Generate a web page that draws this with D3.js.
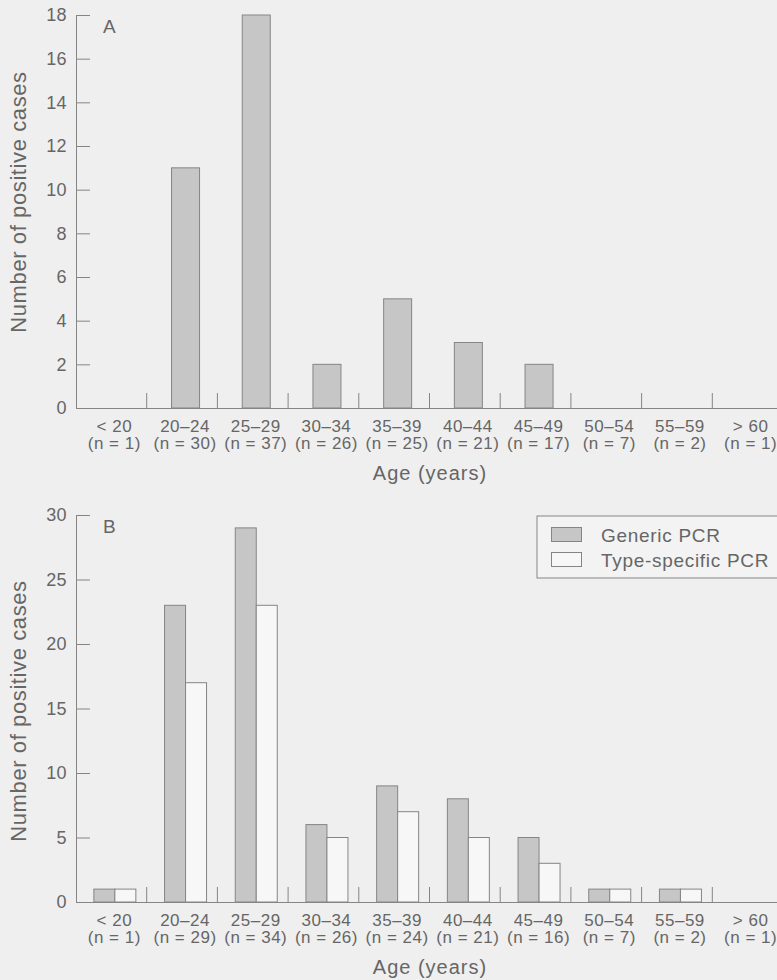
<!DOCTYPE html>
<html>
<head>
<meta charset="utf-8">
<script src="https://cdn.jsdelivr.net/npm/d3@7"></script>
<style>
  html, body { margin: 0; padding: 0; background: #efefef; }
  svg { display: block; }
  text { font-family: "Liberation Sans", Arial, sans-serif; fill: #666; }
</style>
</head>
<body>
<svg id="chart" width="777" height="980"></svg>
<script>
// age groups shared by both panels
var ageGroups = ["< 20", "20–24", "25–29", "30–34", "35–39", "40–44", "45–49", "50–54", "55–59", "> 60"];

// panel A
var nA = [1, 30, 37, 26, 25, 21, 17, 7, 2, 1];
var genericA = [0, 11, 18, 2, 5, 3, 2, 0, 0, 0];
var yTicksA = [0, 2, 4, 6, 8, 10, 12, 14, 16, 18];

// panel B
var nB = [1, 29, 34, 26, 24, 21, 16, 7, 2, 1];
var genericB = [1, 23, 29, 6, 9, 8, 5, 1, 1, 0];
var typeSpecificB = [1, 17, 23, 5, 7, 5, 3, 1, 1, 0];
var yTicksB = [0, 5, 10, 15, 20, 25, 30];

var seriesNames = ["Generic PCR", "Type-specific PCR"];
var seriesFill = ["#c6c6c6", "#f7f7f7"];

var ink = "#858585";
var svg = d3.select("svg#chart");

var x = d3.scaleBand()
  .domain(ageGroups)
  .range([76, 783]);

var shift = 3; // bars & labels sit a bit right of band centre

function drawPanel(opt){
  var g = svg.append("g").attr("class", "panel");

  var y = d3.scaleLinear()
    .domain([0, opt.yMax])
    .range([opt.base, opt.top]);

  // y axis, ticks pointing inward
  var yAxis = g.append("g")
    .attr("transform", "translate(76,0)")
    .call(d3.axisLeft(y).tickValues(opt.yTicks).tickSizeInner(-14).tickSizeOuter(0).tickPadding(9));
  yAxis.select(".domain").attr("stroke", ink);
  yAxis.selectAll(".tick line").attr("stroke", ink);
  yAxis.selectAll(".tick text")
    .attr("font-size", 18)
    .style("letter-spacing", "0.4px")
    .attr("fill", "#666");

  // x axis line
  var xAxis = g.append("g")
    .attr("transform", "translate(0," + opt.base + ")")
    .call(d3.axisBottom(x).tickSize(0).tickFormat(""));
  xAxis.select(".domain").attr("stroke", ink);

  // separators between groups
  g.selectAll("line.sep")
    .data(ageGroups.slice(1))
    .enter().append("line")
    .attr("class", "sep")
    .attr("x1", d => x(d))
    .attr("x2", d => x(d))
    .attr("y1", opt.base)
    .attr("y2", opt.base - 15)
    .attr("stroke", ink);

  // bars
  var bars = [];
  opt.series.forEach(function(vals, s){
    vals.forEach(function(v, i){
      if(v > 0) bars.push({cat: ageGroups[i], v: v, s: s});
    });
  });
  var ns = opt.series.length;
  var bw = opt.barWidth;
  g.selectAll("rect.bar")
    .data(bars)
    .enter().append("rect")
    .attr("class", "bar")
    .attr("x", d => x(d.cat) + x.bandwidth()/2 + shift - ns*bw/2 + d.s*bw + 0.5)
    .attr("y", d => y(d.v))
    .attr("width", bw)
    .attr("height", d => opt.base - y(d.v))
    .attr("fill", d => seriesFill[d.s])
    .attr("stroke", ink)
    .attr("stroke-width", 1);

  // category labels, two lines
  var lab = g.selectAll("text.cat")
    .data(ageGroups)
    .enter().append("text")
    .attr("class", "cat")
    .attr("text-anchor", "middle")
    .attr("font-size", 17)
    .style("letter-spacing", "0.5px");
  lab.append("tspan")
    .attr("x", d => x(d) + x.bandwidth()/2 + shift)
    .attr("y", opt.base + 24)
    .text(d => d);
  lab.append("tspan")
    .attr("x", d => x(d) + x.bandwidth()/2 + shift)
    .attr("y", opt.base + 40.5)
    .text((d, i) => "(n = " + opt.n[i] + ")");

  // axis titles
  g.append("text")
    .attr("text-anchor", "middle")
    .attr("x", 430)
    .attr("y", opt.base + 72)
    .attr("font-size", 20)
    .style("letter-spacing", "1px")
    .text("Age (years)");

  g.append("text")
    .attr("text-anchor", "middle")
    .attr("transform", "translate(26," + opt.labelMid + ") rotate(-90)")
    .attr("font-size", 22)
    .style("letter-spacing", "0.6px")
    .text("Number of positive cases");

  // panel letter
  g.append("text")
    .attr("x", 103)
    .attr("y", opt.top + opt.letterDy)
    .attr("font-size", 19)
    .text(opt.letter);
}

drawPanel({letter: "A", base: 408, top: 15, yMax: 18, yTicks: yTicksA,
  series: [genericA], n: nA, barWidth: 28, labelMid: 202, letterDy: 18});

drawPanel({letter: "B", base: 902, top: 515, yMax: 30, yTicks: yTicksB,
  series: [genericB, typeSpecificB], n: nB, barWidth: 21, labelMid: 711, letterDy: 18});

// legend
var legend = svg.append("g").attr("transform", "translate(537,516)");
legend.append("rect")
  .attr("width", 260)
  .attr("height", 62)
  .attr("fill", "#f3f3f3")
  .attr("stroke", ink);

var item = legend.selectAll("g.item")
  .data(seriesNames)
  .enter().append("g")
  .attr("class", "item")
  .attr("transform", (d, i) => "translate(0," + (i*25) + ")");
item.append("rect")
  .attr("x", 14.5)
  .attr("y", 11.5)
  .attr("width", 30)
  .attr("height", 14)
  .attr("fill", (d, i) => seriesFill[i])
  .attr("stroke", ink);
item.append("text")
  .attr("x", 64)
  .attr("y", 26)
  .attr("font-size", 19)
  .style("letter-spacing", "0.7px")
  .text(d => d);
</script>
</body>
</html>
